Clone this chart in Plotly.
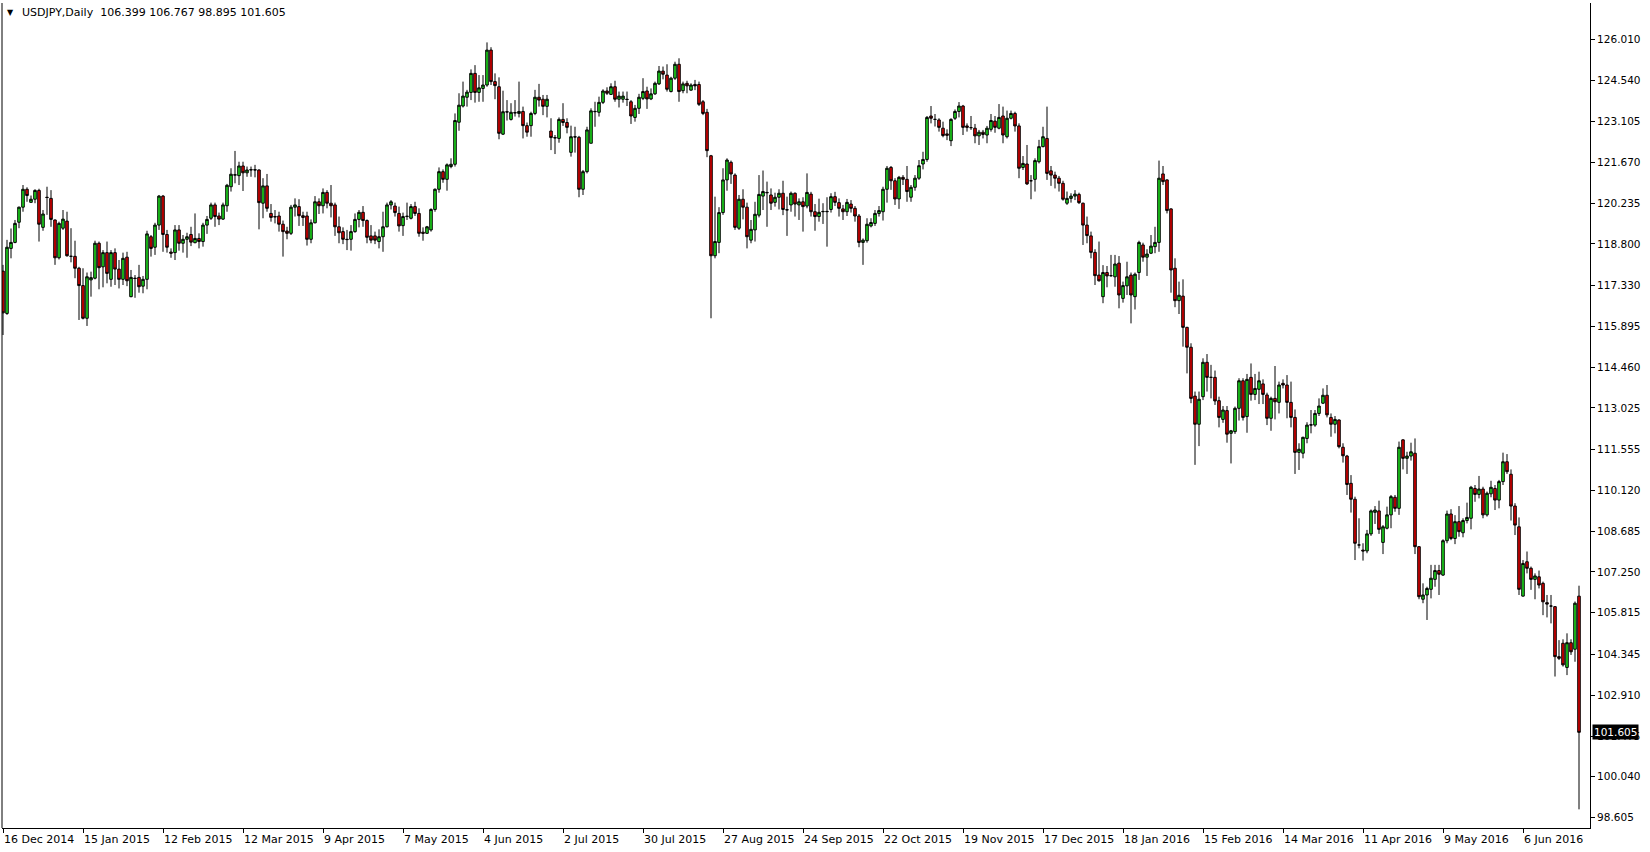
import plotly.graph_objects as go

# ---- OHLC values (USDJPY daily, 16 Dec 2014 .. 24 Jun 2016) ----
opens = [
117.84,116.35,118.64,118.85,119.56,120.09,120.72,120.26,120.37,120.68,
119.38,120.44,120.40,119.64,118.31,119.35,119.60,118.36,118.36,117.94,
117.33,116.18,117.53,117.59,118.82,117.99,118.49,117.55,118.49,117.91,
117.55,118.33,116.94,117.59,117.62,117.31,117.55,119.05,118.68,119.46,
120.48,119.13,118.51,118.49,119.29,118.82,118.96,119.13,118.84,118.99,
118.88,119.46,119.70,120.17,119.78,119.67,120.14,120.81,121.22,121.20,
121.54,121.30,121.40,121.41,121.40,120.23,120.84,119.87,119.76,119.78,
119.49,119.25,119.17,120.09,120.11,119.79,119.78,118.96,119.54,120.28,
120.14,120.61,120.23,120.17,119.40,119.23,118.96,118.96,119.23,119.66,
119.91,119.62,119.08,119.08,118.88,119.05,119.40,120.17,120.13,119.87,
119.44,119.76,119.70,120.11,119.87,119.21,119.17,119.29,120.01,120.72,
121.34,121.07,121.52,121.60,123.08,123.65,123.96,124.13,124.80,124.13,
124.27,124.39,125.62,124.51,124.33,122.66,123.45,123.18,123.42,123.39,
123.46,122.96,122.96,123.39,123.96,123.89,123.64,122.77,122.54,122.51,
123.18,123.07,122.02,122.57,122.55,120.72,121.34,122.34,123.45,123.43,
123.78,124.18,124.06,124.33,123.89,123.89,123.89,123.80,123.25,123.57,
123.92,124.18,123.90,124.08,124.43,124.88,124.74,124.16,124.63,125.12,
124.19,124.45,124.21,124.41,124.41,123.80,123.43,121.90,118.38,118.85,
119.90,121.05,121.67,121.22,119.35,120.37,120.09,118.93,119.29,119.81,
120.48,120.61,120.52,120.26,120.44,120.58,119.99,120.17,120.58,120.17,
120.28,120.13,120.55,119.93,119.76,119.93,119.93,120.01,120.46,120.25,
120.03,119.93,120.20,120.05,119.78,118.85,118.91,119.43,119.52,119.87,
119.93,120.72,121.49,121.02,120.38,121.14,121.07,120.44,120.79,121.11,
121.61,121.77,123.30,123.18,123.16,122.87,122.67,122.43,123.22,123.46,
123.65,122.95,122.89,122.87,122.60,122.73,122.63,122.83,123.12,122.87,
123.30,122.57,123.22,123.39,122.95,121.49,121.61,121.02,121.07,121.69,
122.22,122.51,121.37,121.22,121.11,120.93,120.23,120.40,120.48,120.54,
120.23,119.46,119.08,118.50,117.70,116.94,117.79,117.68,117.64,118.12,
116.88,117.32,117.70,116.94,117.79,118.76,118.33,118.47,118.70,118.85,
121.26,121.05,120.03,117.94,116.80,116.96,115.86,115.16,113.44,112.45,
113.42,114.63,114.10,114.10,113.28,112.62,112.93,112.13,112.19,113.01,
113.98,112.72,114.10,113.50,113.68,113.87,113.48,112.66,113.36,113.22,
113.89,113.83,113.22,112.69,111.46,111.43,111.95,112.42,112.42,112.83,
113.19,113.47,112.69,112.45,112.60,111.64,111.33,110.37,109.81,108.20,
108.02,107.99,108.59,109.35,109.40,108.29,108.79,109.26,109.88,109.49,
111.90,111.25,111.33,111.43,108.14,106.29,106.44,106.64,106.99,107.30,
107.14,108.35,109.29,108.43,109.02,108.63,109.06,109.14,110.19,109.98,
110.17,109.26,110.00,110.19,109.78,110.43,111.13,110.69,109.57,108.84,
106.40,107.61,107.38,106.99,107.08,106.85,106.17,106.05,106.03,104.27,
104.74,103.89,104.76,104.53,106.399,
]
highs = [
118.06,118.94,119.34,119.64,120.11,120.87,120.79,120.50,120.72,120.74,
119.99,120.81,120.69,119.66,119.58,119.99,119.93,119.35,118.91,117.99,
117.94,117.79,117.82,118.91,118.88,118.58,118.88,118.58,118.64,118.23,
118.49,118.52,117.88,117.70,118.06,117.67,119.26,119.11,119.54,120.52,
120.52,119.29,118.64,119.46,119.46,119.11,119.19,119.40,119.87,119.17,
119.54,119.78,120.25,120.25,119.90,120.25,120.91,121.46,122.07,121.69,
121.69,121.52,121.52,121.58,121.42,121.11,121.26,120.20,119.99,119.93,
119.62,119.40,120.17,120.40,120.37,119.93,119.93,119.66,120.48,120.40,
120.75,120.69,120.87,120.25,119.76,119.38,119.29,119.46,119.87,119.99,
120.13,119.66,119.46,119.23,119.31,119.93,120.25,120.34,120.25,120.11,
119.90,120.25,120.20,120.28,120.05,119.38,119.43,120.05,120.75,121.49,
121.42,121.63,121.81,123.39,124.10,124.51,124.22,124.94,125.09,124.74,
124.74,125.89,125.72,124.80,124.66,124.19,123.86,123.75,123.86,124.51,
123.63,123.07,123.45,124.22,124.43,124.04,124.04,123.22,122.63,123.25,
123.75,123.22,122.96,122.92,122.60,121.40,122.92,123.57,123.80,123.98,
124.24,124.31,124.45,124.54,124.16,124.16,124.16,123.86,123.69,124.08,
124.63,124.33,124.27,124.51,125.06,125.04,125.12,124.68,125.21,125.33,
124.51,124.54,124.45,124.57,124.51,123.86,123.55,121.93,120.46,120.09,
121.46,121.81,121.73,121.28,120.52,120.72,120.25,119.64,120.28,121.22,
121.38,120.99,120.75,120.60,120.72,121.02,120.46,120.64,120.61,120.40,
120.44,121.28,120.63,120.20,120.39,120.23,120.44,120.58,120.63,120.40,
120.17,120.38,120.34,120.13,119.85,118.99,119.70,119.70,119.99,120.13,
120.81,121.54,121.54,121.11,121.19,121.22,121.54,120.87,121.22,121.75,
122.04,123.30,123.65,123.37,123.22,123.10,122.83,123.22,123.53,123.79,
123.69,123.04,123.30,123.02,122.81,122.81,122.95,123.37,123.30,123.72,
123.63,123.49,123.49,123.45,123.04,121.89,122.28,121.22,121.81,122.46,
122.92,123.63,121.54,121.34,121.19,121.02,120.64,120.58,120.69,120.60,
120.25,119.76,119.23,118.61,118.88,118.05,118.02,118.41,118.41,118.37,
117.47,118.17,117.79,117.79,118.91,118.84,118.61,119.11,119.40,121.73,
121.54,121.07,120.05,118.29,117.47,117.55,115.88,115.30,113.60,113.60,
114.77,114.92,114.54,114.34,113.42,113.09,113.09,112.25,113.07,114.07,
114.07,114.22,114.59,114.22,114.30,114.03,113.56,113.42,114.50,113.95,
114.03,114.18,113.95,112.97,111.78,112.01,112.52,112.95,112.95,113.36,
113.71,113.83,112.83,112.74,112.62,111.78,111.37,110.66,109.90,109.14,
108.26,108.73,109.45,109.57,109.76,108.90,109.55,109.96,109.96,111.84,
111.92,111.48,111.80,111.95,108.16,106.85,106.73,107.50,107.50,107.50,
108.40,109.41,109.46,109.25,109.57,109.14,109.69,110.28,110.31,110.63,
110.25,110.08,110.46,110.31,110.49,111.45,111.40,110.86,109.67,109.17,
107.67,107.97,107.44,107.20,107.30,106.91,106.44,106.44,106.05,104.85,
104.88,105.09,104.88,106.21,106.767,
]
lows = [
115.59,116.30,118.29,118.82,119.35,119.93,120.28,120.25,120.23,118.88,
119.26,119.82,119.40,118.06,118.25,119.29,118.35,118.15,117.59,116.12,
116.14,115.91,116.94,117.55,117.20,117.27,117.41,117.29,117.35,117.23,
117.35,117.31,116.92,116.90,117.08,117.06,117.20,118.35,118.41,119.29,
118.52,118.49,118.31,118.23,118.56,118.49,118.31,118.72,118.82,118.64,
118.70,119.15,119.64,119.40,119.46,119.64,119.93,120.64,120.93,120.87,
120.66,121.16,121.16,121.14,119.31,119.70,119.93,119.58,119.52,119.23,
118.35,118.96,119.11,119.76,119.43,119.43,118.74,118.82,119.52,119.85,
119.87,120.05,119.73,119.08,118.82,118.79,118.58,118.56,119.19,119.38,
119.40,118.82,118.82,118.79,118.64,118.52,119.38,120.01,119.76,119.23,
119.08,119.64,119.66,119.78,119.05,118.91,119.15,119.23,119.93,120.60,
120.95,120.67,121.46,121.52,122.78,123.60,123.63,123.86,123.77,123.80,
123.80,124.33,124.39,123.89,122.48,122.63,123.14,123.14,123.28,123.25,
122.51,122.57,122.57,123.33,123.63,123.33,123.25,122.10,121.96,122.36,
122.95,122.69,121.87,122.01,120.44,120.52,121.28,122.34,122.92,123.28,
123.72,124.04,124.04,123.80,123.60,123.77,123.65,123.02,123.10,123.37,
123.86,123.55,123.86,124.04,124.39,124.59,124.16,124.13,124.57,123.80,
124.10,124.10,124.19,124.21,123.65,123.33,121.85,116.18,118.29,118.47,
119.82,120.67,120.91,119.29,119.29,119.66,118.64,118.82,118.88,119.73,
119.99,119.40,119.99,120.11,120.01,119.81,119.08,119.93,119.76,119.64,
119.23,120.05,119.76,119.26,119.58,119.50,118.70,119.90,120.13,119.76,
119.64,119.78,119.90,119.58,118.68,118.06,118.84,119.38,119.43,119.76,
119.62,120.25,120.70,120.17,120.03,120.87,120.28,120.28,120.67,121.05,
121.42,121.69,123.04,122.93,122.75,122.55,122.45,122.24,123.16,123.25,
122.63,122.75,122.81,122.34,122.28,122.51,122.34,122.75,122.71,122.83,
122.34,122.51,123.18,122.75,121.11,121.40,120.87,120.37,120.64,121.63,
122.20,121.05,120.84,120.75,120.64,120.32,120.17,120.25,120.34,120.20,
118.76,118.82,118.29,117.35,117.47,116.71,117.27,117.64,117.29,116.53,
116.73,117.00,116.00,116.49,117.53,118.17,117.67,118.44,118.47,118.52,
120.87,119.87,117.08,116.57,116.33,115.18,114.24,113.19,111.02,111.68,
113.30,113.60,113.36,113.13,112.34,112.50,111.80,111.07,112.11,112.58,
112.58,112.15,113.28,113.30,113.16,113.16,112.42,112.22,112.62,112.83,
113.71,112.66,112.34,110.70,110.84,111.25,111.78,112.13,112.36,112.74,
113.16,112.69,112.01,112.13,111.60,111.10,109.96,109.34,107.67,108.08,
107.65,107.91,108.52,108.94,108.59,107.88,108.75,108.79,109.37,109.26,
110.86,110.70,111.17,107.88,106.29,106.15,105.56,106.32,106.73,106.44,
107.11,108.26,108.37,108.23,108.49,108.47,108.96,108.75,109.72,109.84,
109.14,109.20,109.88,109.43,109.49,110.31,110.70,109.06,108.55,106.44,
106.38,107.20,106.62,106.29,106.67,105.73,105.65,105.44,103.57,104.15,
103.92,103.62,104.33,104.09,98.895,
]
closes = [
116.37,118.68,118.85,119.52,120.09,120.72,120.50,120.37,120.68,119.49,
119.85,120.43,119.66,118.31,119.52,119.67,118.38,118.36,117.94,117.33,
116.18,117.64,117.61,118.82,117.96,118.49,117.76,118.49,117.91,117.55,
118.29,117.50,117.62,117.58,117.29,117.55,119.15,118.64,119.46,120.48,
119.13,118.68,118.47,119.29,118.82,118.96,119.05,118.86,118.99,118.88,
119.46,119.66,120.17,119.76,119.67,120.17,120.86,121.25,121.23,121.54,
121.30,121.40,121.41,121.40,120.25,120.84,120.05,119.73,119.75,119.49,
119.23,119.17,120.09,120.17,119.79,119.73,118.96,119.54,120.28,120.14,
120.61,120.23,120.14,119.40,119.19,118.96,118.95,119.23,119.66,119.91,
119.62,119.03,118.93,118.93,119.05,119.40,120.17,120.28,119.90,119.43,
119.76,119.77,120.11,119.87,119.17,119.17,119.40,120.01,120.72,121.34,
121.07,121.58,121.60,123.14,123.68,124.00,124.14,124.80,124.13,124.29,
124.39,125.62,124.51,124.37,122.69,123.45,123.44,123.43,123.41,123.46,
122.96,122.73,123.39,123.96,123.86,123.64,123.89,122.54,122.53,123.18,
123.07,122.90,122.57,122.56,120.72,121.34,122.81,123.48,123.46,123.78,
124.18,124.10,124.33,123.89,124.00,124.00,123.88,123.30,123.57,123.96,
124.16,123.90,124.08,124.45,124.88,124.77,124.24,124.63,125.12,124.16,
124.43,124.36,124.39,124.36,123.71,123.39,122.08,118.38,118.88,119.90,
121.05,121.75,121.26,119.38,120.37,120.09,119.05,119.31,119.84,120.54,
120.64,120.60,120.23,120.44,120.58,120.01,120.00,120.58,120.20,120.28,
120.11,120.61,119.93,119.76,119.91,119.94,119.94,120.46,120.26,120.05,
119.93,120.26,120.05,119.78,118.85,118.93,119.49,119.55,119.87,119.97,
120.72,121.46,121.02,120.38,121.14,121.07,120.64,120.79,121.11,121.55,
121.77,123.25,123.22,123.18,122.90,122.61,122.62,123.18,123.46,123.65,
122.90,122.90,122.89,122.60,122.73,122.65,122.87,123.14,122.90,123.25,
122.63,123.22,123.39,122.95,121.46,121.63,120.91,121.02,121.73,122.22,
122.57,121.28,121.22,121.11,120.93,120.37,120.40,120.48,120.55,120.25,
119.46,119.09,118.50,117.68,117.50,117.79,117.67,117.68,118.09,117.00,
117.33,117.64,117.00,117.73,118.85,118.33,118.44,118.72,118.85,121.11,
120.99,119.97,117.88,116.80,116.99,115.86,115.16,113.36,112.45,113.33,
114.63,114.10,114.10,113.27,112.69,112.95,112.10,112.22,113.01,113.98,
112.69,114.03,113.50,113.71,113.98,113.50,112.66,113.36,113.24,113.83,
113.83,113.22,112.69,111.46,111.57,111.99,112.42,112.43,112.83,113.09,
113.47,112.78,112.45,112.62,111.66,111.34,110.33,109.81,108.26,108.20,
107.99,108.59,109.40,109.43,108.75,108.84,109.26,109.90,109.49,111.64,
111.25,111.33,111.48,108.14,106.38,106.44,106.67,107.03,107.30,107.17,
108.35,109.29,108.43,109.02,108.67,109.06,109.17,110.23,109.98,110.17,
109.26,110.02,110.23,109.78,110.43,111.13,110.78,109.57,108.90,106.64,
107.55,107.38,106.99,107.11,106.79,106.20,106.12,106.05,104.27,104.21,
103.98,104.76,104.44,106.15,101.605,
]

# time-scale labels (every 20 bars) and price-scale labels
tick_bars = [0, 20, 40, 60, 80, 100, 120, 140, 160, 180, 200, 220, 240, 260, 280, 300, 320, 340, 360, 380]
tick_labels = ["16 Dec 2014", "15 Jan 2015", "12 Feb 2015", "12 Mar 2015", "9 Apr 2015",
               "7 May 2015", "4 Jun 2015", "2 Jul 2015", "30 Jul 2015", "27 Aug 2015",
               "24 Sep 2015", "22 Oct 2015", "19 Nov 2015", "17 Dec 2015", "18 Jan 2016",
               "15 Feb 2016", "14 Mar 2016", "11 Apr 2016", "9 May 2016", "6 Jun 2016"]
price_ticks = [126.010, 124.540, 123.105, 121.670, 120.235, 118.800, 117.330, 115.895,
               114.460, 113.025, 111.555, 110.120, 108.685, 107.250, 105.815, 104.345,
               102.910, 101.475, 100.040, 98.605]
last_price = 101.605
symbol = "USDJPY,Daily"

n = len(opens)
bars = list(range(n))
hi = [max(h, o, c) for h, o, c in zip(highs, opens, closes)]
lo = [min(l, o, c) for l, o, c in zip(lows, opens, closes)]

FONT = "DejaVu Sans"
BULL = "#1ee01e"
BEAR = "#e00000"

fig = go.Figure(go.Candlestick(
    x=bars, open=opens, high=hi, low=lo, close=closes,
    increasing=dict(line=dict(color="black", width=1), fillcolor=BULL),
    decreasing=dict(line=dict(color="black", width=1), fillcolor=BEAR),
    whiskerwidth=0, hoverinfo="skip", showlegend=False,
))

fig.update_layout(
    width=1650, height=852,
    margin=dict(l=2, r=60, t=3, b=24, autoexpand=False),
    paper_bgcolor="white", plot_bgcolor="white",
    font=dict(family=FONT, size=11, color="black"),
    showlegend=False,
    boxgap=0.2, boxgroupgap=0.2,
)
fig.update_xaxes(
    range=[-0.25, 396.75], showgrid=False, zeroline=False,
    showline=True, linecolor="black", linewidth=1,
    tickvals=tick_bars, ticks="outside", ticklen=4, tickcolor="black", tickwidth=1,
    showticklabels=False, rangeslider_visible=False, fixedrange=True,
)
fig.update_yaxes(
    side="right", range=[98.238, 127.277], showgrid=False, zeroline=False,
    showline=True, linecolor="black", linewidth=1,
    tickvals=price_ticks, ticktext=[f"{v:.3f}" for v in price_ticks],
    ticks="outside", ticklen=4, tickcolor="black", tickwidth=1,
    tickfont=dict(family=FONT, size=10.5, color="black"), fixedrange=True,
    automargin=False,
)

annotations = []
for b, lab in zip(tick_bars, tick_labels):
    annotations.append(dict(
        x=b, xref="x", y=0, yref="paper", yanchor="top", xanchor="left",
        yshift=-3, xshift=-1, text=lab, showarrow=False,
        font=dict(family=FONT, size=11, color="black"),
    ))
annotations.append(dict(
    x=1, xref="paper", y=last_price, yref="y", xanchor="left", yanchor="middle",
    xshift=2, text=f"{last_price:.3f}", showarrow=False, bgcolor="black", borderpad=1,
    font=dict(family=FONT, size=10.5, color="white"),
))
annotations.append(dict(
    x=0, xref="paper", y=1, yref="paper", xanchor="left", yanchor="middle",
    xshift=3, yshift=-9, text="\u25bc", showarrow=False,
    font=dict(family=FONT, size=8, color="black"),
))
annotations.append(dict(
    x=0, xref="paper", y=1, yref="paper", xanchor="left", yanchor="middle",
    xshift=18, yshift=-9,
    text=f"{symbol}&nbsp;&nbsp;{opens[-1]:.3f} {highs[-1]:.3f} {lows[-1]:.3f} {closes[-1]:.3f}",
    showarrow=False, font=dict(family=FONT, size=11, color="black"),
))
fig.update_layout(annotations=annotations)

fig.add_shape(type="line", xref="paper", yref="paper", x0=0, x1=0, y0=0, y1=1,
              line=dict(color="black", width=1))

fig.write_html(
    "out.html",
    config={"displayModeBar": False, "staticPlot": True},
    post_script="document.body.style.margin='0';document.body.style.padding='0';"
                "document.body.style.overflow='hidden';",
)
